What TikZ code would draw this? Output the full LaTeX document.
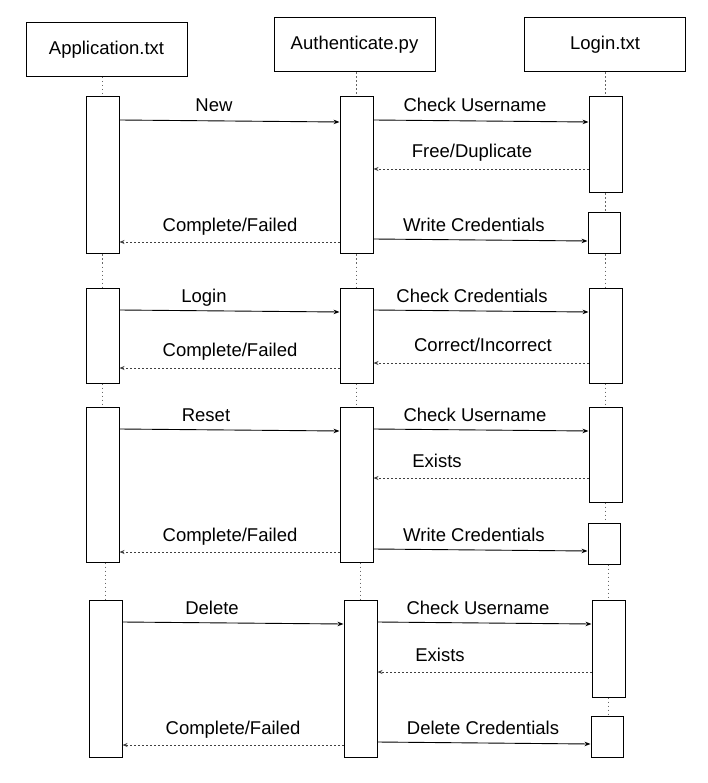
\documentclass[tikz,border=0pt]{standalone}
\usepackage{fontspec}
\setmainfont{Liberation Sans}
\usetikzlibrary{arrows.meta}

\begin{document}
\begin{tikzpicture}[x=1pt, y=-1pt,
    obj/.style={draw, line width=1pt, minimum width=161pt, minimum height=54pt, font=\fontsize{18.5}{22}\selectfont},
    act/.style={draw, line width=1pt, fill=white, minimum width=33pt, inner sep=0pt},
    call/.style={line width=0.9pt, -{Stealth[length=6pt, width=4.5pt]}},
    reply/.style={line width=0.8pt, black!75, dash pattern=on 2pt off 2pt, -{Stealth[length=5pt, width=4pt]}},
    life/.style={line width=0.7pt, black!60, dash pattern=on 1.5pt off 2.5pt},
    lbl/.style={font=\fontsize{18.5}{22}\selectfont, inner sep=0pt, anchor=base}]

    \useasboundingbox (0,0) rectangle (708,783);

    % objects
    \node[obj] (app) at (106.5,49.5) {Application.txt};
    \node[obj] (auth) at (354.5,45) {Authenticate.py};
    \node[obj] (login) at (605,45) {Login.txt};

    % activation boxes
    \node[act, minimum height=157pt] (a1) at (102.5,175.5) {};
    \node[act, minimum height=157pt] (b1) at (356.5,175.5) {};
    \node[act, minimum height=96pt] (c1) at (605.5,145) {};
    \node[act, minimum width=32pt, minimum height=41pt] (d1) at (604,233.5) {};

    \node[act, minimum height=95pt] (a2) at (102.5,335.5) {};
    \node[act, minimum height=95pt] (b2) at (356.5,335.5) {};
    \node[act, minimum height=95pt] (c2) at (605.5,335.5) {};

    \node[act, minimum height=155pt] (a3) at (102.5,484.5) {};
    \node[act, minimum height=155pt] (b3) at (356.5,484.5) {};
    \node[act, minimum height=95pt] (c3) at (605.5,454.5) {};
    \node[act, minimum width=32pt, minimum height=41pt] (d3) at (604,543.5) {};

    \node[act, minimum height=157pt] (a4) at (105.5,678.5) {};
    \node[act, minimum height=157pt] (b4) at (360.5,678.5) {};
    \node[act, minimum height=97pt] (c4) at (608.5,648.5) {};
    \node[act, minimum width=32pt, minimum height=41pt] (d4) at (607,736.5) {};

    % lifelines
    \draw[life] (a1.north |- app.south) -- (a1.north);
    \draw[life] (a1.south) -- (a2.north);
    \draw[life] (a2.south) -- (a3.north);
    \draw[life] (a4.north |- a3.south) -- (a4.north);
    \draw[life] (b1.north |- auth.south) -- (b1.north);
    \draw[life] (b1.south) -- (b2.north);
    \draw[life] (b2.south) -- (b3.north);
    \draw[life] (b4.north |- b3.south) -- (b4.north);
    \draw[life] (c1.north |- login.south) -- (c1.north);
    \draw[life] (c1.south) -- (c1.south |- d1.north);
    \draw[life] (c2.north |- d1.south) -- (c2.north);
    \draw[life] (c2.south) -- (c3.north);
    \draw[life] (c3.south) -- (c3.south |- d3.north);
    \draw[life] (c4.north |- d3.south) -- (c4.north);
    \draw[life] (c4.south) -- (c4.south |- d4.north);

    % new user
    \draw[call] (a1.east |- 0,120) -- (b1.west |- 0,122);
    \draw[call] (b1.east |- 0,120) -- (c1.west |- 0,122);
    \draw[reply] (c1.west |- 0,169) -- (b1.east |- 0,169);
    \draw[reply] (b1.west |- 0,242) -- (a1.east |- 0,242);
    \draw[call] (b1.east |- 0,239) -- (d1.west |- 0,241);
    \node[lbl] (l1) at (214,111.5) {New};
    \node[lbl] (l2) at (475,111.5) {Check Username};
    \node[lbl] (l3) at (472,158) {Free/Duplicate};
    \node[lbl] (l4) at (230,231.5) {Complete/Failed};
    \node[lbl] (l5) at (474,231.5) {Write Credentials};

    % login
    \draw[call] (a2.east |- 0,310) -- (b2.west |- 0,312);
    \draw[call] (b2.east |- 0,310) -- (c2.west |- 0,312);
    \draw[reply] (c2.west |- 0,363) -- (b2.east |- 0,363);
    \draw[reply] (b2.west |- 0,368) -- (a2.east |- 0,368);
    \node[lbl] (l6) at (204,302.5) {Login};
    \node[lbl] (l7) at (472,302.5) {Check Credentials};
    \node[lbl] (l8) at (483,351.5) {Correct/Incorrect};
    \node[lbl] (l9) at (230,356.5) {Complete/Failed};

    % reset
    \draw[call] (a3.east |- 0,429) -- (b3.west |- 0,431);
    \draw[call] (b3.east |- 0,429) -- (c3.west |- 0,431);
    \draw[reply] (c3.west |- 0,478) -- (b3.east |- 0,478);
    \draw[reply] (b3.west |- 0,552) -- (a3.east |- 0,552);
    \draw[call] (b3.east |- 0,549) -- (d3.west |- 0,551);
    \node[lbl] (l10) at (206,421.5) {Reset};
    \node[lbl] (l11) at (475,421.5) {Check Username};
    \node[lbl] (l12) at (437,467.5) {Exists};
    \node[lbl] (l13) at (230,541.5) {Complete/Failed};
    \node[lbl] (l14) at (474,541.5) {Write Credentials};

    % delete
    \draw[call] (a4.east |- 0,622) -- (b4.west |- 0,624);
    \draw[call] (b4.east |- 0,622) -- (c4.west |- 0,624);
    \draw[reply] (c4.west |- 0,672) -- (b4.east |- 0,672);
    \draw[reply] (b4.west |- 0,745) -- (a4.east |- 0,745);
    \draw[call] (b4.east |- 0,742) -- (d4.west |- 0,744);
    \node[lbl] (l15) at (212,614.5) {Delete};
    \node[lbl] (l16) at (478,614.5) {Check Username};
    \node[lbl] (l17) at (440,661.5) {Exists};
    \node[lbl] (l18) at (233,734.5) {Complete/Failed};
    \node[lbl] (l19) at (483,734.5) {Delete Credentials};

\end{tikzpicture}
\end{document}
